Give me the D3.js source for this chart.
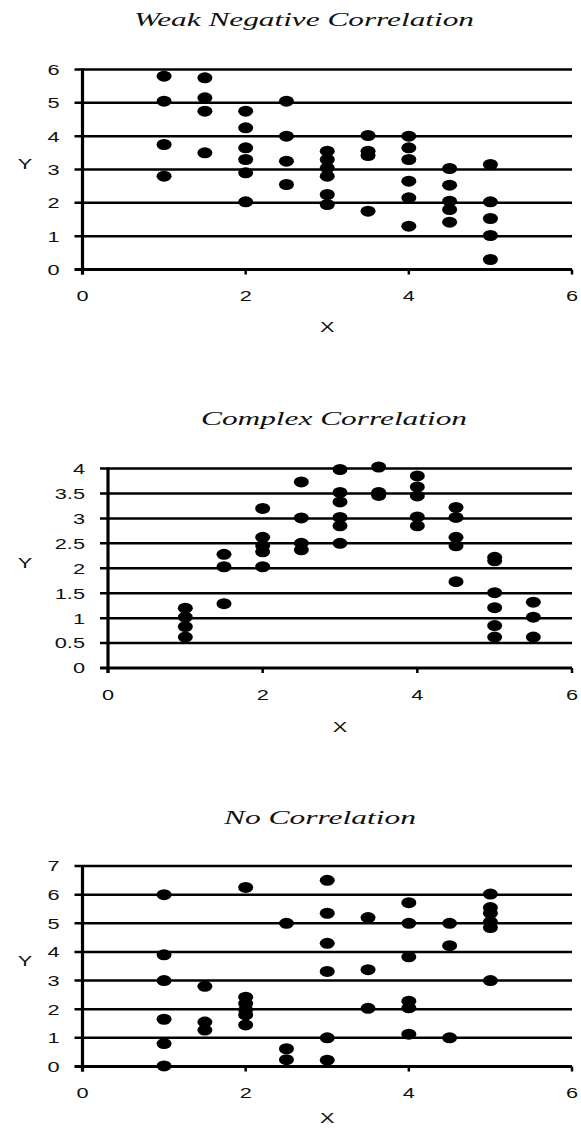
<!DOCTYPE html>
<html>
<head>
<meta charset="utf-8">
<script src="https://cdn.jsdelivr.net/npm/d3@7"></script>
<style>
  body { margin: 0; background: #fff; }
  svg { display: block; }
</style>
</head>
<body>
<div class="container"></div>
<script>
// x positions are shared columns, one list of y values per column
let xTicks = [0, 2, 4, 6];

let weakCols = [1, 1.5, 2, 2.5, 3, 3.5, 4, 4.5, 5];
let weakVals = [
  [5.8, 5.05, 3.75, 2.8],
  [5.75, 5.15, 4.75, 3.5],
  [4.75, 4.25, 3.65, 3.3, 2.9, 2.03],
  [5.05, 4.0, 3.25, 2.55],
  [3.55, 3.3, 3.05, 2.8, 2.25, 1.95],
  [4.02, 3.55, 3.42, 1.75],
  [4.0, 3.65, 3.3, 2.65, 2.15, 1.3],
  [3.03, 2.53, 2.05, 1.8, 1.42],
  [3.15, 2.03, 1.53, 1.02, 0.3]
];
let weakTicks = [0, 1, 2, 3, 4, 5, 6];

let complexCols = [1, 1.5, 2, 2.5, 3, 3.5, 4, 4.5, 5, 5.5];
let complexVals = [
  [1.2, 1.02, 0.83, 0.62],
  [2.28, 2.03, 1.29],
  [3.2, 2.62, 2.45, 2.33, 2.03],
  [3.73, 3.01, 2.5, 2.37],
  [3.98, 3.52, 3.33, 3.02, 2.85, 2.5],
  [4.03, 3.52, 3.46],
  [3.85, 3.63, 3.45, 3.03, 2.85],
  [3.22, 3.02, 2.62, 2.45, 1.73],
  [2.22, 2.15, 1.51, 1.21, 0.85, 0.62],
  [1.32, 1.02, 0.62]
];
let complexTicks = [0, 0.5, 1, 1.5, 2, 2.5, 3, 3.5, 4];

let noneCols = [1, 1.5, 2, 2.5, 3, 3.5, 4, 4.5, 5];
let noneVals = [
  [6.0, 3.9, 3.0, 1.65, 0.8, 0.02],
  [2.8, 1.55, 1.27],
  [6.25, 2.42, 2.2, 1.98, 1.8, 1.45],
  [5.0, 0.62, 0.24],
  [6.5, 5.35, 4.3, 3.32, 1.0, 0.22],
  [5.2, 3.38, 2.03],
  [5.72, 5.0, 3.83, 2.28, 2.05, 1.13],
  [5.0, 4.22, 1.0],
  [6.02, 5.55, 5.35, 5.05, 4.85, 3.0]
];
let noneTicks = [0, 1, 2, 3, 4, 5, 6, 7];

let width = 581;
let height = 1134;
let right = 572;
let stretch = 1.45;

let svg = d3
  .select('.container')
  .append('svg')
  .attr('width', width)
  .attr('height', height);

let panels = [
  { title: 'Weak Negative Correlation', titleX: 304, titleY: 26, titleLen: 340,
    left: 82.5, top: 69.5, bottom: 269.5, yMax: 6, ticks: weakTicks,
    cols: weakCols, vals: weakVals, xTitleY: 327 },
  { title: 'Complex Correlation', titleX: 334, titleY: 425, titleLen: 266,
    left: 108, top: 468.5, bottom: 668, yMax: 4, ticks: complexTicks,
    cols: complexCols, vals: complexVals, xTitleY: 727 },
  { title: 'No Correlation', titleX: 320, titleY: 824, titleLen: 192,
    left: 82.5, top: 866, bottom: 1066.5, yMax: 7, ticks: noneTicks,
    cols: noneCols, vals: noneVals, xTitleY: 1118 }
];

function stretchedText(g, x, y, txt, anchor) {
  return g
    .append('text')
    .attr('transform', 'translate(' + x + ',' + y + ') scale(' + stretch + ',1)')
    .attr('text-anchor', anchor)
    .attr('dy', '0.36em')
    .style('font-family', 'Liberation Sans, Arial, sans-serif')
    .style('font-size', '15px')
    .style('fill', '#111')
    .text(txt);
}

panels.forEach((p) => {
  let g = svg.append('g');

  let x = d3.scaleLinear().domain([0, 6]).range([p.left, right]);
  let y = d3.scaleLinear().domain([0, p.yMax]).range([p.bottom, p.top]);

  // title
  g.append('text')
    .attr('x', p.titleX)
    .attr('y', p.titleY)
    .attr('text-anchor', 'middle')
    .attr('textLength', p.titleLen)
    .attr('lengthAdjust', 'spacingAndGlyphs')
    .style('font-family', 'Liberation Serif, Times New Roman, serif')
    .style('font-style', 'italic')
    .style('font-size', '18px')
    .style('fill', '#111')
    .text(p.title);

  // horizontal grid lines with small ticks left of the axis
  g.selectAll('.grid')
    .data(p.ticks)
    .enter()
    .append('line')
    .attr('class', 'grid')
    .attr('x1', p.left - 8)
    .attr('x2', right)
    .attr('y1', (d) => y(d))
    .attr('y2', (d) => y(d))
    .attr('stroke', '#000')
    .attr('stroke-width', (d) => (d === 0 ? 3 : 2.5));

  // y axis line
  g.append('line')
    .attr('x1', p.left)
    .attr('x2', p.left)
    .attr('y1', p.top - 1)
    .attr('y2', p.bottom + 5)
    .attr('stroke', '#000')
    .attr('stroke-width', 3.2);

  // x ticks
  g.selectAll('.xtick')
    .data(xTicks)
    .enter()
    .append('line')
    .attr('class', 'xtick')
    .attr('x1', (d) => x(d))
    .attr('x2', (d) => x(d))
    .attr('y1', p.bottom)
    .attr('y2', p.bottom + 5)
    .attr('stroke', '#000')
    .attr('stroke-width', 2.5);

  p.ticks.forEach((t) => stretchedText(g, p.left - 23, y(t), String(t), 'end'));
  xTicks.forEach((t) => stretchedText(g, x(t), p.bottom + 26.5, String(t), 'middle'));

  stretchedText(g, 25, (p.top + p.bottom) / 2 - 6, 'Y', 'middle');
  stretchedText(g, (p.left + right) / 2, p.xTitleY, 'X', 'middle');

  // points
  let pts = [];
  p.cols.forEach((c, i) => {
    p.vals[i].forEach((v) => pts.push({ x: c, y: v }));
  });

  g.selectAll('.dot')
    .data(pts)
    .enter()
    .append('ellipse')
    .attr('class', 'dot')
    .attr('cx', (d) => x(d.x))
    .attr('cy', (d) => y(d.y))
    .attr('rx', 7.5)
    .attr('ry', 5.5)
    .attr('fill', '#000');
});
</script>
</body>
</html>
